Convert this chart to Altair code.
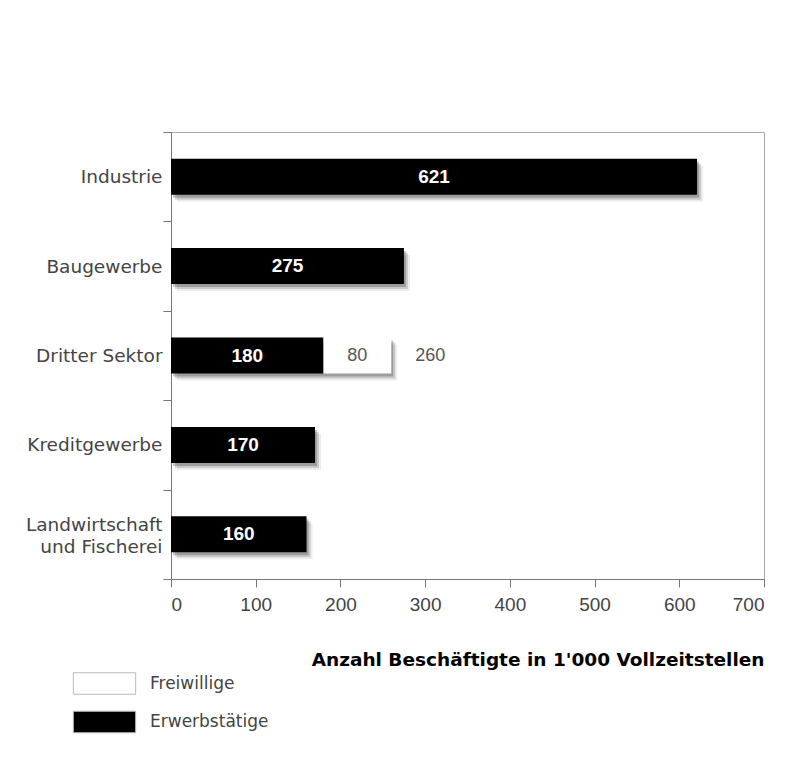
import altair as alt
import pandas as pd

categories = ["Industrie", "Baugewerbe", "Dritter Sektor", "Kreditgewerbe", "Landwirtschaft|und Fischerei"]
erwerbstaetige = [621, 275, 180, 170, 160]
freiwillige = [0, 0, 80, 0, 0]
series_names = ["Freiwillige", "Erwerbstätige"]
series_colors = ["white", "black"]
x_ticks = [0, 100, 200, 300, 400, 500, 600, 700]
x_title = "Anzahl Beschäftigte in 1'000 Vollzeitstellen"

rows = []
for c, e, f in zip(categories, erwerbstaetige, freiwillige):
    rows.append(dict(cat=c, series="Erwerbstätige", start=0, end=e, value=e, mid=e / 2))
    if f > 0:
        rows.append(dict(cat=c, series="Freiwillige", start=e, end=e + f, value=f, mid=e + f / 2))
seg = pd.DataFrame(rows)
tot = pd.DataFrame({
    "cat": categories,
    "total": [e + f for e, f in zip(erwerbstaetige, freiwillige)],
    "frei": freiwillige,
})

BAR_H = 36
yscale = alt.Scale(paddingInner=0, paddingOuter=0)
xscale = alt.Scale(domain=[0, 700], nice=False, zero=True)

y_axis = alt.Axis(
    title=None,
    labelExpr="split(datum.label, '|')",
    tickBand="extent",
    labelFont="DejaVu Sans",
    labelFontSize=18.5,
    labelColor="#444",
    labelPadding=1,
    labelLineHeight=22,
    labelOffset={"condition": {"test": "indexof(datum.label, '|') >= 0", "value": -10}, "value": 0},
    tickSize=8,
    tickColor="#777",
    domainColor="#777",
)
x_axis = alt.Axis(
    values=x_ticks,
    title=x_title,
    titleFont="DejaVu Sans",
    titleFontSize=18.5,
    titleFontWeight="bold",
    titleColor="black",
    titleAnchor="end",
    titlePadding=36,
    labelFont="Liberation Sans",
    labelFontSize=19,
    labelColor="#444",
    labelPadding=8,
    tickSize=8,
    tickColor="#777",
    domainColor="#777",
    grid=False,
)


def X(field):
    return alt.X(field, type="quantitative", scale=xscale, axis=x_axis)


def Y():
    return alt.Y("cat:N", sort=categories, scale=yscale, axis=y_axis)


shadows = []
for off, op in [(2, 0.22), (4, 0.15), (6, 0.07)]:
    shadows.append(
        alt.Chart(tot).mark_bar(
            color="black", opacity=op, size=BAR_H,
            xOffset=off, x2Offset=off, yOffset=off + 1,
        ).encode(x=X("total:Q"), x2=alt.X2("zero:Q"), y=Y())
        .transform_calculate(zero="0")
    )

bars = alt.Chart(seg).mark_bar(size=BAR_H).encode(
    x=X("start:Q"),
    x2="end:Q",
    y=Y(),
    color=alt.Color(
        "series:N",
        scale=alt.Scale(domain=series_names, range=series_colors),
        legend=alt.Legend(
            title=None,
            orient="none",
            legendX=-78,
            legendY=540,
            direction="vertical",
            symbolType="M-2.9,-1L2.9,-1L2.9,1L-2.9,1Z",
            symbolSize=462,
            symbolStrokeColor="#bbb",
            symbolStrokeWidth=1,
            symbolOpacity=1,
            labelFont="DejaVu Sans",
            labelFontSize=17,
            labelColor="#444",
            labelOffset=34,
            rowPadding=11.5,
            padding=0,
        ),
    ),
)

lab_in = alt.Chart(seg[seg.series == "Erwerbstätige"]).mark_text(
    color="white", font="Liberation Sans", fontSize=19, fontWeight="bold", align="center", baseline="middle"
).encode(x=X("mid:Q"), y=Y(), text="value:Q")

lab_frei = alt.Chart(seg[seg.series == "Freiwillige"]).mark_text(
    color="#555", font="Liberation Sans", fontSize=18, align="center", baseline="middle"
).encode(x=X("mid:Q"), y=Y(), text="value:Q")

lab_tot = alt.Chart(tot[tot.frei > 0]).mark_text(
    color="#555", font="Liberation Sans", fontSize=18, align="left", baseline="middle", dx=24
).encode(x=X("total:Q"), y=Y(), text="total:Q")

chart = alt.layer(*shadows, bars, lab_in, lab_frei, lab_tot).properties(
    width=593,
    height=447,
    padding={"left": 163, "top": 124, "right": 30, "bottom": 170},
    autosize=alt.AutoSizeParams(type="none"),
    background="white",
).configure_view(stroke="#aaa", strokeWidth=1)

chart.save("out.html", embed_options={"renderer": "svg", "actions": False})
